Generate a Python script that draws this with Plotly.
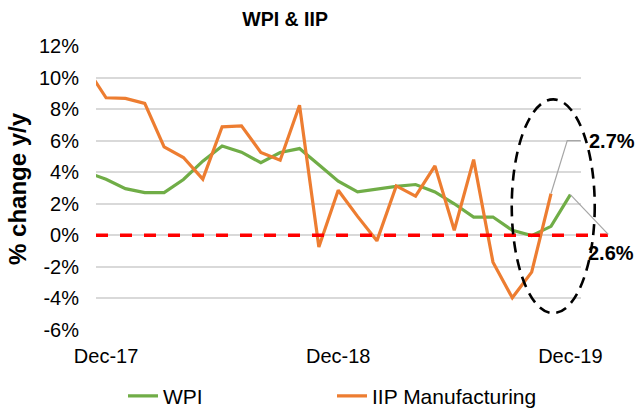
import plotly.graph_objects as go

# ---------------- data ----------------
months = ["Nov-17", "Dec-17", "Jan-18", "Feb-18", "Mar-18", "Apr-18", "May-18", "Jun-18",
          "Jul-18", "Aug-18", "Sep-18", "Oct-18", "Nov-18", "Dec-18", "Jan-19", "Feb-19",
          "Mar-19", "Apr-19", "May-19", "Jun-19", "Jul-19", "Aug-19", "Sep-19", "Oct-19",
          "Nov-19", "Dec-19"]
month_idx = list(range(-1, len(months) - 1))  # Dec-17 = 0

wpi = [4.0, 3.55, 2.96, 2.71, 2.71, 3.54, 4.7, 5.66, 5.27, 4.6, 5.25, 5.5, 4.47, 3.43,
       2.75, 2.95, 3.1, 3.22, 2.75, 2.0, 1.16, 1.16, 0.32, -0.02, 0.57, 2.58]
iip_mfg = [10.6, 8.72, 8.68, 8.36, 5.6, 4.93, 3.56, 6.88, 6.94, 5.25, 4.76, 8.25, -0.74,
           2.86, 1.2, -0.35, 3.13, 2.48, 4.4, 0.32, 4.8, -1.7, -3.96, -2.33, 2.65]

x_tick_vals = [0, 12, 24]
x_tick_labels = ["Dec-17", "Dec-18", "Dec-19"]
y_tick_vals = [-6, -4, -2, 0, 2, 4, 6, 8, 10, 12]
y_tick_labels = ["-6%", "-4%", "-2%", "0%", "2%", "4%", "6%", "8%", "10%", "12%"]

label_wpi = "2.6%"
label_iip = "2.7%"

# ---------------- layout helpers ----------------
X_RANGE = [-0.52, 24.55]
Y_RANGE = [-6, 12]
FONT = "Arial, 'Liberation Sans', sans-serif"
GREEN = "#70AD47"
ORANGE = "#ED7D31"


def px(xv):
    return (xv - X_RANGE[0]) / (X_RANGE[1] - X_RANGE[0])


def py(yv):
    return (yv - Y_RANGE[0]) / (Y_RANGE[1] - Y_RANGE[0])


fig = go.Figure()

fig.add_trace(go.Scatter(
    x=month_idx, y=wpi, mode="lines", name="WPI",
    line=dict(color=GREEN, width=3.2), legend="legend",
))
fig.add_trace(go.Scatter(
    x=month_idx[:len(iip_mfg)], y=iip_mfg, mode="lines", name="IIP Manufacturing",
    line=dict(color=ORANGE, width=3.2), legend="legend2",
))

shapes = []
# red dashed zero line (extends past the plot area)
shapes.append(dict(type="line", xref="paper", yref="paper",
                   x0=px(X_RANGE[0]), x1=px(25.94), y0=py(0), y1=py(0),
                   line=dict(color="#FF0000", width=3.5, dash="12px,12px")))
# leader line for the IIP label
last_iip_x = month_idx[len(iip_mfg) - 1]
shapes.append(dict(type="path", xref="paper", yref="paper",
                   path=f"M{px(last_iip_x)},{py(iip_mfg[-1])} L{px(23.84)},{py(6.0)} L{px(24.53)},{py(6.0)}",
                   line=dict(color="#A6A6A6", width=1.2)))
# leader line for the WPI label
shapes.append(dict(type="line", xref="paper", yref="paper",
                   x0=px(month_idx[-1]), y0=py(wpi[-1]), x1=px(25.96), y1=py(0.06),
                   line=dict(color="#A6A6A6", width=1.2)))
# dashed ellipse highlight
shapes.append(dict(type="circle", xref="paper", yref="paper",
                   x0=px(20.97), x1=px(25.26), y0=py(-4.93), y1=py(8.62),
                   line=dict(color="#000000", width=2.6, dash="11px,7px")))

annotations = [
    dict(text=f"<b>{label_iip}</b>", xref="paper", yref="paper", x=px(24.86), y=py(6.0),
         xanchor="left", yanchor="middle", showarrow=False,
         font=dict(family=FONT, size=20, color="#000000")),
    dict(text=f"<b>{label_wpi}</b>", xref="paper", yref="paper", x=px(24.83), y=py(-1.14),
         xanchor="left", yanchor="middle", showarrow=False,
         font=dict(family=FONT, size=20, color="#000000")),
    dict(text="<b>% change y/y</b>", xref="paper", yref="paper", x=-0.163, y=0.5,
         xanchor="center", yanchor="middle", textangle=-90, showarrow=False,
         font=dict(family=FONT, size=24, color="#000000")),
]

fig.update_layout(
    width=636, height=409,
    margin=dict(l=96, r=55, t=46, b=79, autoexpand=False),
    paper_bgcolor="white", plot_bgcolor="white",
    font=dict(family=FONT, size=20, color="#000000"),
    title=dict(text="<b>WPI & IIP</b>", xref="paper", x=0.39, xanchor="center",
               yref="container", y=1 - 19 / 409, yanchor="middle",
               font=dict(family=FONT, size=19.5, color="#000000")),
    xaxis=dict(range=X_RANGE, tickvals=x_tick_vals, ticktext=x_tick_labels,
               showgrid=False, zeroline=False, showline=False, ticks="",
               ticklabelstandoff=12, tickfont=dict(size=20)),
    yaxis=dict(range=Y_RANGE, tickvals=y_tick_vals, ticktext=y_tick_labels,
               showgrid=True, gridcolor="#D9D9D9", gridwidth=1.5,
               zeroline=False, showline=False, ticks="",
               ticklabelstandoff=16, tickfont=dict(size=20)),
    legend=dict(orientation="h", x=(123 - 96) / 485, xanchor="left",
                y=-0.233, yanchor="middle", bgcolor="rgba(0,0,0,0)",
                font=dict(family=FONT, size=21, color="#000000")),
    legend2=dict(orientation="h", x=(332 - 96) / 485, xanchor="left",
                 y=-0.233, yanchor="middle", bgcolor="rgba(0,0,0,0)",
                 font=dict(family=FONT, size=21, color="#000000")),
    shapes=shapes,
    annotations=annotations,
    showlegend=True,
)

fig.write_html("out.html", config={"displayModeBar": False},
               post_script="document.body.style.margin='0px';")
